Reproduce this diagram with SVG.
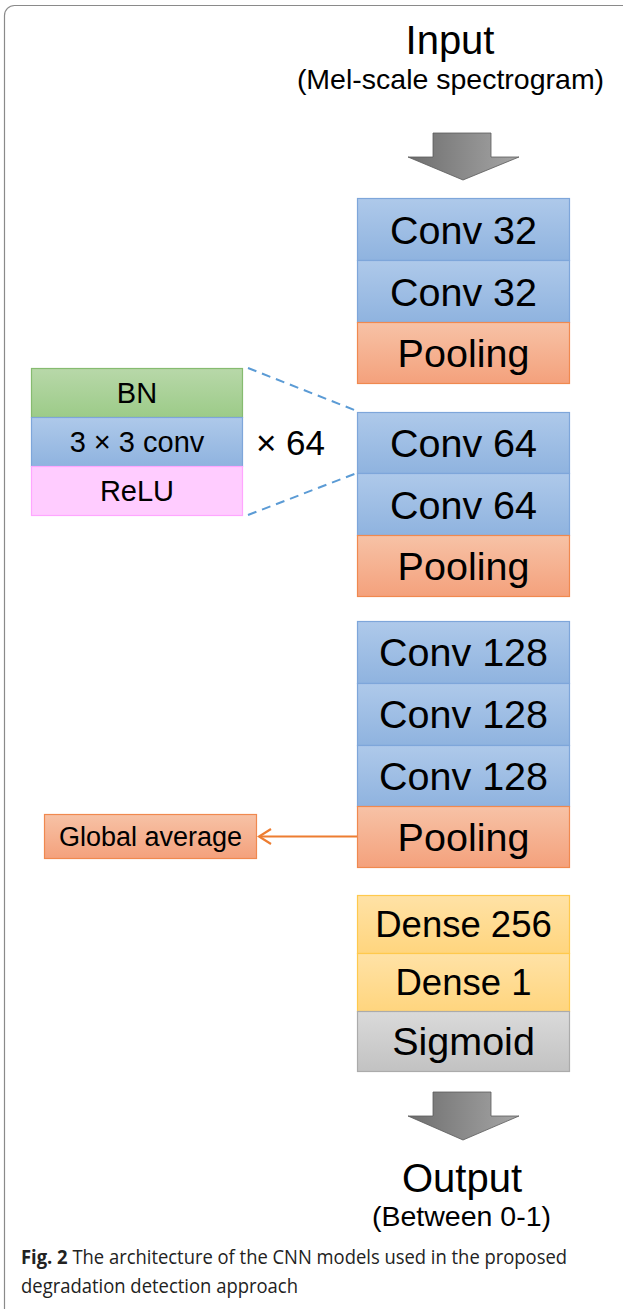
<svg xmlns="http://www.w3.org/2000/svg" width="623" height="1309" viewBox="0 0 623 1309">
  <defs>
    <linearGradient id="gBlue" x1="0" y1="0" x2="0" y2="1">
      <stop offset="0" stop-color="#aec9ea"/>
      <stop offset="1" stop-color="#8fb3df"/>
    </linearGradient>
    <linearGradient id="gOrange" x1="0" y1="0" x2="0" y2="1">
      <stop offset="0" stop-color="#f7c2a6"/>
      <stop offset="1" stop-color="#f4a17c"/>
    </linearGradient>
    <linearGradient id="gGreen" x1="0" y1="0" x2="0" y2="1">
      <stop offset="0" stop-color="#b8d8a9"/>
      <stop offset="1" stop-color="#9ccb88"/>
    </linearGradient>
    <linearGradient id="gYellow" x1="0" y1="0" x2="0" y2="1">
      <stop offset="0" stop-color="#ffe2a6"/>
      <stop offset="1" stop-color="#ffd57e"/>
    </linearGradient>
    <linearGradient id="gGray" x1="0" y1="0" x2="0" y2="1">
      <stop offset="0" stop-color="#dadada"/>
      <stop offset="1" stop-color="#c2c2c2"/>
    </linearGradient>
    <linearGradient id="gArrow" x1="0" y1="0" x2="1" y2="0">
      <stop offset="0" stop-color="#6e6e6e"/>
      <stop offset="1" stop-color="#a6a6a6"/>
    </linearGradient>
    <!-- open chevron head; tip sits at the line end -->
    <marker id="openArrow" markerWidth="16" markerHeight="18" refX="14" refY="9" orient="auto" markerUnits="userSpaceOnUse">
      <path d="M2,1.5 L14,9 L2,16.5" fill="none" stroke="#ed7d31" stroke-width="2.2"/>
    </marker>
    <style>
      .lbl { font-family: "Liberation Sans", Arimo, Arial, Helvetica, sans-serif; fill: #000; text-anchor: middle; }
      .big { font-size: 39.5px; }
      .dense { font-size: 36.5px; }
      .small { font-size: 29px; }
      .blue { fill: url(#gBlue); stroke: #7ea6da; stroke-width: 1.2; }
      .orange { fill: url(#gOrange); stroke: #f0894f; stroke-width: 1.2; }
      .green { fill: url(#gGreen); stroke: #86bb70; stroke-width: 1.2; }
      .pink { fill: #ffccff; stroke: #ffa6ff; stroke-width: 1.2; }
      .yellow { fill: url(#gYellow); stroke: #ffc94d; stroke-width: 1.2; }
      .gray { fill: url(#gGray); stroke: #ababab; stroke-width: 1.2; }
      .bigarrow { fill: url(#gArrow); stroke: #5a5a5a; stroke-width: 0.8; }
      .cap { font-family: "Open Sans", "Noto Sans", sans-serif; font-size: 19.5px; fill: #222; }
    </style>
  </defs>

  <!-- outer frame -->
  <rect x="4.5" y="5.5" width="640" height="1330" rx="10" ry="10" fill="#fff" stroke="#8a8a8a" stroke-width="1.2"/>

  <!-- input label -->
  <g id="input">
    <text class="lbl" x="450" y="54" font-size="40">Input</text>
    <text class="lbl" x="450.5" y="89" font-size="28.5">(Mel-scale spectrogram)</text>
  </g>

  <!-- block 1 -->
  <g id="conv32a"><rect class="blue" x="357.5" y="198.5" width="212" height="62"/><text class="lbl big" x="463.5" y="244">Conv 32</text></g>
  <g id="conv32b"><rect class="blue" x="357.5" y="260.5" width="212" height="62"/><text class="lbl big" x="463.5" y="306">Conv 32</text></g>
  <g id="pool1"><rect class="orange" x="357.5" y="322.5" width="212" height="61"/><text class="lbl big" x="463.5" y="367">Pooling</text></g>

  <!-- block 2 -->
  <g id="conv64a"><rect class="blue" x="357.5" y="412.5" width="212" height="61"/><text class="lbl big" x="463.5" y="457">Conv 64</text></g>
  <g id="conv64b"><rect class="blue" x="357.5" y="473.5" width="212" height="62"/><text class="lbl big" x="463.5" y="519">Conv 64</text></g>
  <g id="pool2"><rect class="orange" x="357.5" y="535.5" width="212" height="61"/><text class="lbl big" x="463.5" y="580">Pooling</text></g>

  <!-- block 3 -->
  <g id="conv128a"><rect class="blue" x="357.5" y="621.5" width="212" height="62"/><text class="lbl big" x="463.5" y="666">Conv 128</text></g>
  <g id="conv128b"><rect class="blue" x="357.5" y="683.5" width="212" height="62"/><text class="lbl big" x="463.5" y="728">Conv 128</text></g>
  <g id="conv128c"><rect class="blue" x="357.5" y="745.5" width="212" height="61"/><text class="lbl big" x="463.5" y="790">Conv 128</text></g>
  <g id="pool3"><rect class="orange" x="357.5" y="806.5" width="212" height="61"/><text class="lbl big" x="463.5" y="851">Pooling</text></g>

  <!-- head -->
  <g id="dense256"><rect class="yellow" x="357.5" y="895.5" width="212" height="58"/><text class="lbl dense" x="463.5" y="937">Dense 256</text></g>
  <g id="dense1"><rect class="yellow" x="357.5" y="953.5" width="212" height="58"/><text class="lbl dense" x="463.5" y="995">Dense 1</text></g>
  <g id="sigmoid"><rect class="gray" x="357.5" y="1011.5" width="212" height="60"/><text class="lbl big" x="463.5" y="1055">Sigmoid</text></g>

  <!-- conv unit detail -->
  <g id="bn"><rect class="green" x="31.5" y="368.5" width="211" height="49"/><text class="lbl small" x="137" y="403">BN</text></g>
  <g id="conv3x3"><rect class="blue" x="31.5" y="417.5" width="211" height="49"/><text class="lbl small" x="137" y="452">3 × 3 conv</text></g>
  <g id="relu"><rect class="pink" x="31.5" y="466.5" width="211" height="49"/><text class="lbl small" x="137" y="501">ReLU</text></g>
  <g id="times64"><text class="lbl" x="290.5" y="455" font-size="35">× 64</text></g>

  <!-- global average -->
  <g id="globalavg"><rect class="orange" x="44.5" y="814.5" width="212" height="44"/><text class="lbl" x="150.5" y="846" font-size="27">Global average</text></g>

  <!-- output label -->
  <g id="output">
    <text class="lbl" x="462" y="1192" font-size="40">Output</text>
    <text class="lbl" x="461.5" y="1226" font-size="28.5">(Between 0-1)</text>
  </g>

  <!-- connectors -->
  <g id="connectors">
    <path class="bigarrow" d="M433,133 H491 V157 H519 L463,180 L408,157 H433 Z"/>
    <path class="bigarrow" d="M433,1092 H491 V1116 H519 L463,1140 L408,1116 H433 Z"/>
    <line x1="248" y1="368" x2="357" y2="411" stroke="#5b9bd5" stroke-width="2" stroke-dasharray="9,6"/>
    <line x1="248" y1="515" x2="357" y2="473" stroke="#5b9bd5" stroke-width="2" stroke-dasharray="9,6"/>
    <line x1="357" y1="836.5" x2="259" y2="836.5" stroke="#ed7d31" stroke-width="2.2" marker-end="url(#openArrow)"/>
  </g>

  <!-- caption -->
  <g id="caption">
    <text class="cap" x="21" y="1264" textLength="546" lengthAdjust="spacingAndGlyphs"><tspan font-weight="bold">Fig. 2</tspan> The architecture of the CNN models used in the proposed</text>
    <text class="cap" x="21" y="1293" textLength="277" lengthAdjust="spacingAndGlyphs">degradation detection approach</text>
  </g>
</svg>
